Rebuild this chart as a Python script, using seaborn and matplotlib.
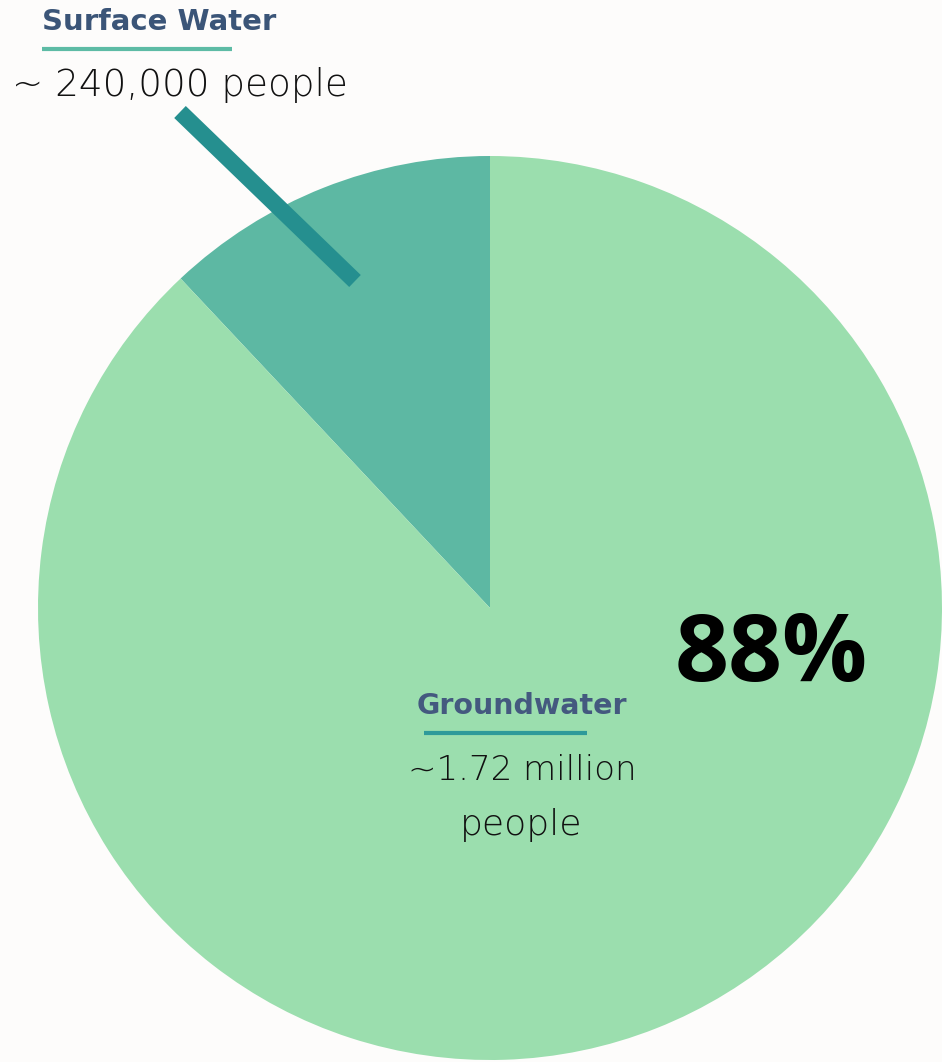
import matplotlib
matplotlib.use("Agg")
import matplotlib.pyplot as plt
import seaborn as sns

sns.set_theme(style="white")
plt.rcParams['font.family'] = ['DejaVu Sans']

categories = ["Surface Water", "Groundwater"]
shares = [12, 88]
people_labels = ["~ 240,000 people", "~1.72 million", "people"]
pct_label = "88%"
colors = ["#5DB8A3", "#9BDEAE"]

W, H = 942, 1062
fig = plt.figure(figsize=(W / 100, H / 100), dpi=100)
fig.patch.set_facecolor("#FDFCFB")
ax = fig.add_axes([0, 0, 1, 1])
ax.set_facecolor("#FDFCFB")

def Y(py):
    return H - py

ax.pie(shares, colors=colors, startangle=90, counterclock=True,
       center=(490, Y(608)), radius=452, wedgeprops=dict(linewidth=0))
ax.set_xlim(0, W)
ax.set_ylim(0, H)
ax.set_aspect("equal")
ax.axis("off")

# pointer line
ax.plot([180, 355], [Y(112), Y(281)], color="#258F8F", lw=12, solid_capstyle="butt")

title_col = "#3B5578"
light = dict(fontweight=200, color="#111111", family=["DejaVu Sans"])
# Surface water labels
ax.text(42, Y(22), categories[0], fontsize=21, fontweight="bold", color=title_col,
        ha="left", va="center", family=["DejaVu Sans"])
ax.plot([42, 232], [Y(49), Y(49)], color="#5DBBA5", lw=3, solid_capstyle="butt")
ax.text(12, Y(85), people_labels[0], fontsize=26.8, ha="left", va="center", **light)

# Groundwater labels
ax.text(522, Y(706), categories[1], fontsize=20.5, fontweight="bold", color="#44597F",
        ha="center", va="center", family=["DejaVu Sans"])
ax.plot([424, 587], [Y(733), Y(733)], color="#2E9A9A", lw=3, solid_capstyle="butt")
ax.text(522, Y(771), people_labels[1], fontsize=24.5, ha="center", va="center", **light)
ax.text(521, Y(825), people_labels[2], fontsize=26, ha="center", va="center", **light)

ax.text(771, Y(657), pct_label, fontsize=68, fontweight="bold", color="black",
        ha="center", va="center", family=["Open Sans", "DejaVu Sans"])

fig.savefig("out.png", dpi=100, facecolor=fig.get_facecolor())
